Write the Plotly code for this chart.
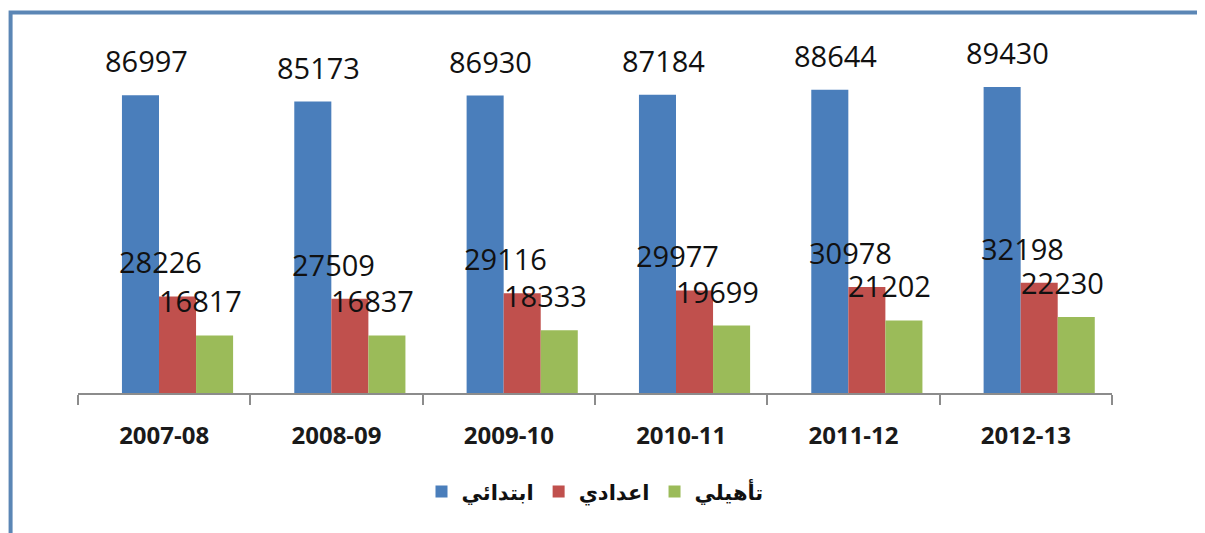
import plotly.graph_objects as go

# school years and pupil counts per level
years = ["2007-08", "2008-09", "2009-10", "2010-11", "2011-12", "2012-13"]
primary = [86997, 85173, 86930, 87184, 88644, 89430]      # ابتدائي
middle = [28226, 27509, 29116, 29977, 30978, 32198]       # اعدادي
secondary = [16817, 16837, 18333, 19699, 21202, 22230]    # تأهيلي

series = [
    ("ابتدائي", primary, "#4a7ebb", -0.245, -0.105),
    ("اعدادي", middle, "#c0504d", -0.03, -0.02),
    ("تأهيلي", secondary, "#9bbb59", 0.185, 0.21),
]

xs = list(range(len(years)))
fig = go.Figure()
annotations = []
for name, vals, color, off, lab_off in series:
    fig.add_trace(go.Bar(
        x=xs, y=vals, name=name,
        width=0.215, offset=off,
        marker=dict(color=color, line=dict(width=0)),
    ))
    for i, v in zip(xs, vals):
        annotations.append(dict(
            x=i + lab_off, y=v, text=str(v), showarrow=False,
            yanchor="bottom", yshift=13,
            font=dict(family="Open Sans", size=29, color="#111111"),
        ))

# blue frame (left and top edges visible)
fig.add_shape(type="rect", xref="paper", yref="paper",
              x0=-0.0652, x1=1.2, y0=-0.6, y1=1.02,
              line=dict(color="#5b86b5", width=4))

fig.update_layout(
    width=1205, height=533,
    margin=dict(l=70, r=101, t=12, b=148),
    paper_bgcolor="white", plot_bgcolor="white",
    barmode="overlay",
    annotations=annotations,
    showlegend=True,
    legend=dict(orientation="h", x=0.5, xanchor="center", y=-0.265, yanchor="middle",
                font=dict(family="DejaVu Sans", size=21, color="#111111", weight="bold"),
                traceorder="normal", itemwidth=30),
    xaxis=dict(
        range=[-0.5, 5.5], tickvals=xs, ticktext=years, ticks="",
        showline=True, linecolor="#8c8c8c", linewidth=1.5, showgrid=False, zeroline=False,
        tickfont=dict(family="Open Sans", size=24, color="#1a1a1a", weight="bold"),
        ticklabelstandoff=20,
        minor=dict(tickvals=[x - 0.5 for x in range(len(years) + 1)], ticks="outside",
                   ticklen=10, tickcolor="#8c8c8c", tickwidth=1.5, showgrid=False),
    ),
    yaxis=dict(range=[0, 109000], visible=False, showgrid=False),
)

fig.write_html("out.html")
